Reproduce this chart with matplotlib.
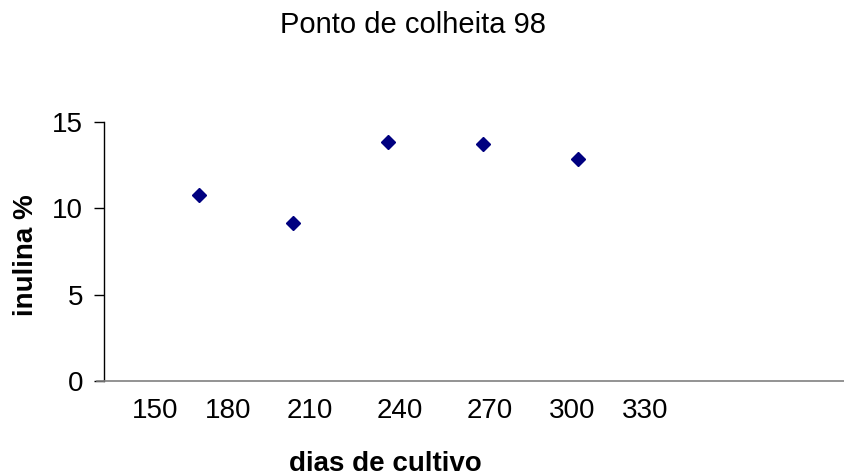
import matplotlib.pyplot as plt

plt.rcParams['font.family'] = ['Liberation Sans', 'DejaVu Sans']

# harvest days and inulin content
dias = [180, 210, 240, 270, 300]
inulina = [10.8, 9.15, 13.85, 13.75, 12.85]

x_labels = ['150', '180', '210', '240', '270', '300', '330']
# where the spreadsheet put the day labels along the axis
x_label_pos = [166.1, 189.2, 215.2, 243.7, 272.2, 298.2, 321.3]
y_ticks = [0, 5, 10, 15]

fig = plt.figure(figsize=(8.44, 4.76), dpi=100)
ax = fig.add_axes([0.1232, 0.1996, 0.8768, 0.544])

ax.plot(dias, inulina, linestyle='none', marker='D', markersize=7.4,
        color='#000080', markeredgecolor='#000080')

ax.set_xlim(150, 384.3)
ax.set_ylim(0, 15)

ax.set_xticks(x_label_pos, labels=x_labels)
ax.tick_params(axis='x', length=0, pad=12, labelsize=20)
ax.set_yticks(y_ticks)
ax.tick_params(axis='y', length=7, width=1, pad=8, labelsize=20, direction='out')

for s in ['top', 'right']:
    ax.spines[s].set_visible(False)
ax.spines['left'].set_color('black')
ax.spines['bottom'].set_color('#808080')
ax.spines['bottom'].set_linewidth(1.2)
ax.spines['left'].set_linewidth(1.0)

# x axis line runs a little past the y axis
ax.plot([-0.0095, 0], [0, 0], transform=ax.transAxes, color='#808080',
        linewidth=1.2, clip_on=False)

ax.set_title('Ponto de colheita 98', fontsize=21, x=0.4176, y=1.3436,
             va='baseline', pad=0)
ax.set_xlabel('dias de cultivo', fontsize=20, fontweight='bold', va='center')
ax.xaxis.set_label_coords(0.38, -0.3205)
ax.set_ylabel('inulina %', fontsize=20, fontweight='bold', va='center')
ax.yaxis.set_label_coords(-0.105, 0.488)

fig.savefig('out.png', dpi=100)
